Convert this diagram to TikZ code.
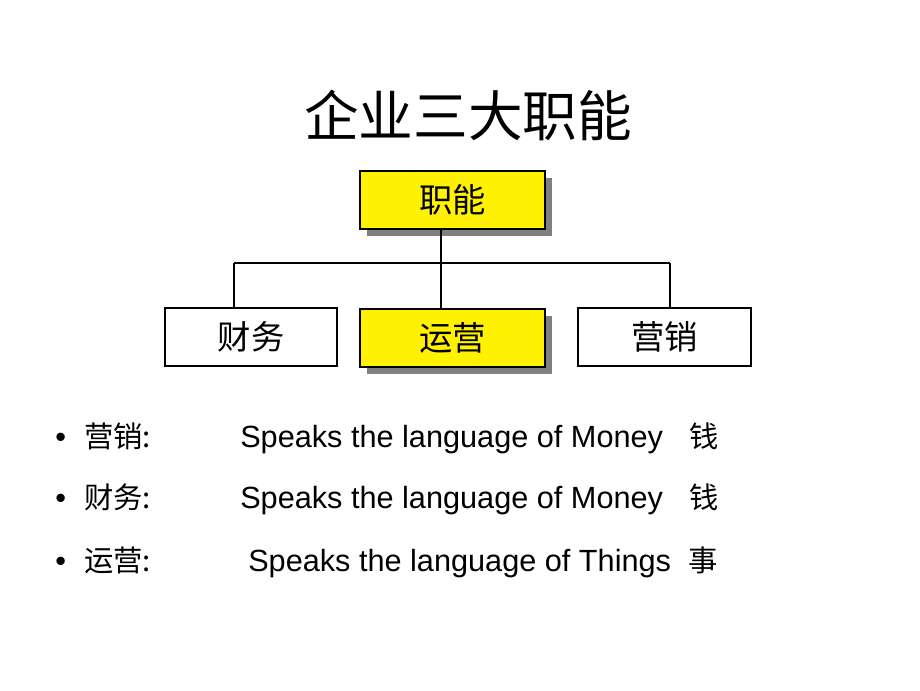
\documentclass[tikz,border=0pt]{standalone}
\usepackage{fontspec}
\setmainfont{Liberation Sans}
\newfontfamily\cjk{Noto Sans CJK SC}
\usetikzlibrary{shadows,calc}
\begin{document}
\begin{tikzpicture}[x=0.75pt,y=-0.75pt,
  box/.style={draw=black,line width=1.8pt,fill=white,minimum height=43.5pt,inner sep=0pt,font=\cjk\fontsize{25}{28}\selectfont},
  ybox/.style={box,fill=yellow,line width=2pt,drop shadow={shadow xshift=5pt,shadow yshift=-5pt,fill=black!50,opacity=1}},
  conn/.style={line width=1.6pt},
  thin/.style={line width=0.8pt},
  txt/.style={anchor=base west,inner sep=0pt,font=\fontsize{23}{26}\selectfont},
  ctxt/.style={anchor=base west,inner sep=0pt,font=\cjk\fontsize{22}{26}\selectfont}]
\useasboundingbox (0,0) rectangle (920,690);
\node[inner sep=0pt,font=\cjk\fontsize{41}{46}\selectfont] (title) at (468,115) {企业三大职能};
\node[ybox,minimum width=138.75pt] (top) at (452.5,200) {职能};
\node[box,minimum width=129pt] (cw) at (251,337) {财务};
\node[ybox,minimum width=138.75pt] (yy) at (452.5,338) {运营};
\node[box,minimum width=129.75pt] (yx) at (664.5,337) {营销};
\coordinate (j) at (441,263);
\coordinate (cL) at (234,263);
\coordinate (cR) at (670,263);
\draw[thin] (top.south -| j) -- (j);
\draw[conn] (cL) -- (cR);
\draw[conn] (j) -- (yy.north -| j);
\draw[conn] (cL) -- (cw.north -| cL);
\draw[conn] (cR) -- (yx.north -| cR);
% bullets
\foreach \y/\n in {447/a,508/b,571/c}{
  \node[txt] (bul\n) at (55,\y) {•};
}
\node[ctxt] (l1) at (84,447) {营销:};
\node[ctxt] (l2) at (84,508) {财务:};
\node[ctxt] (l3) at (84,571) {运营:};
\node[txt] (s1) at (240,447) {Speaks the language of Money};
\node[txt] (s2) at (240,508) {Speaks the language of Money};
\node[txt] (s3) at (248,571) {Speaks the language of Things};
\node[ctxt] (m1) at (689,447) {钱};
\node[ctxt] (m2) at (689,508) {钱};
\node[ctxt] (m3) at (688,571) {事};
\end{tikzpicture}
\end{document}
